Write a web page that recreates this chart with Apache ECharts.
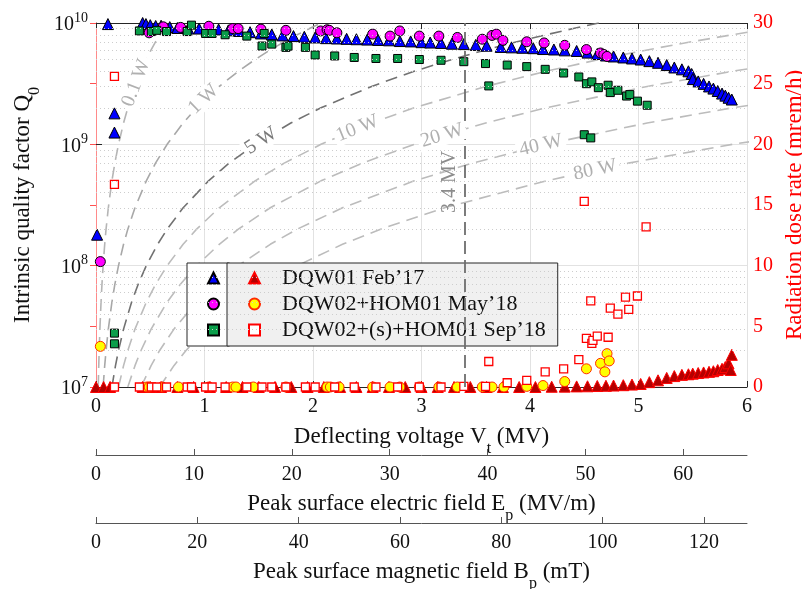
<!DOCTYPE html>
<html>
<head>
<meta charset="utf-8">
<script src="https://cdn.jsdelivr.net/npm/echarts@6/dist/echarts.min.js"></script>
<style>html,body{margin:0;background:#fff}#chart{width:802px;height:589px}</style>
</head>
<body>
<div id="chart"></div>
<script>
const FONT = "'Liberation Serif', 'Times New Roman', serif";

// Q0 vs deflecting voltage, [Vt (MV), Q0]
const dqw01Q = [[0.01,1.8e8],[0.11,9.8e9],[0.17,1.8e9],[0.17,1.25e9],[0.43,1.0e10],[0.46,9.8e9],[0.5,9.6e9],[0.55,9.45e9],[0.6,9.5e9],[0.68,9.25e9],[0.75,9.1e9],[0.85,9.0e9],[0.95,9.0e9],[1.05,8.9e9],[1.13,8.85e9],[1.22,8.7e9],[1.32,8.6e9],[1.42,8.4e9],[1.52,8.2e9],[1.62,8.05e9],[1.72,7.9e9],[1.82,7.8e9],[1.92,7.7e9],[2.02,7.6e9],[2.12,7.5e9],[2.22,7.45e9],[2.31,7.4e9],[2.4,7.35e9],[2.5,7.3e9],[2.6,7.25e9],[2.7,7.2e9],[2.8,7.1e9],[2.9,7.05e9],[3.0,6.95e9],[3.08,6.9e9],[3.18,6.85e9],[3.28,6.75e9],[3.39,6.7e9],[3.5,6.6e9],[3.6,6.5e9],[3.73,6.35e9],[3.83,6.3e9],[3.93,6.25e9],[4.03,6.2e9],[4.12,6.1e9],[4.22,6.05e9],[4.32,5.95e9],[4.43,5.88e9],[4.53,5.7e9],[4.62,5.55e9],[4.7,5.4e9],[4.77,5.3e9],[4.86,5.2e9],[4.94,5.1e9],[5.02,5.0e9],[5.1,4.85e9],[5.18,4.7e9],[5.26,4.5e9],[5.33,4.3e9],[5.4,4.15e9],[5.46,4.0e9],[5.49,3.8e9],[5.5,3.45e9],[5.55,3.3e9],[5.6,3.15e9],[5.65,3.0e9],[5.69,2.88e9],[5.73,2.75e9],[5.77,2.62e9],[5.8,2.52e9],[5.83,2.42e9],[5.86,2.34e9]];
const dqw02Q = [[0.04,1.08e8],[0.49,8.3e9],[0.62,9.3e9],[0.78,9.2e9],[1.04,9.4e9],[1.26,9.0e9],[1.31,9.0e9],[1.52,8.9e9],[1.75,8.7e9],[2.07,8.6e9],[2.13,8.8e9],[2.15,8.7e9],[2.22,8.3e9],[2.55,8.1e9],[2.71,7.8e9],[2.8,8.6e9],[2.98,7.8e9],[3.16,7.8e9],[3.33,7.6e9],[3.56,7.35e9],[3.65,7.9e9],[3.69,8.1e9],[3.75,7.2e9],[3.97,7.0e9],[4.13,6.85e9],[4.32,6.55e9],[4.52,6.04e9],[4.65,5.66e9],[4.68,5.5e9],[4.71,5.3e9]];
const dqw02sQ = [[0.17,2.78e7],[0.17,2.27e7],[0.4,8.6e9],[0.51,8.5e9],[0.56,8.7e9],[0.65,8.5e9],[0.84,8.5e9],[0.88,9.6e9],[1.01,8.2e9],[1.07,8.2e9],[1.19,8.0e9],[1.39,7.8e9],[1.55,8.2e9],[1.53,6.46e9],[1.62,6.7e9],[1.75,6.3e9],[1.77,6.45e9],[1.93,6.3e9],[2.02,5.45e9],[2.2,5.35e9],[2.38,5.2e9],[2.58,5.1e9],[2.78,5.1e9],[2.98,5.0e9],[3.18,4.93e9],[3.39,4.8e9],[3.59,4.63e9],[3.62,3.03e9],[3.79,4.5e9],[3.97,4.37e9],[4.14,4.15e9],[4.31,3.87e9],[4.45,3.59e9],[4.52,3.16e9],[4.57,3.27e9],[4.63,2.93e9],[4.72,3.07e9],[4.74,2.67e9],[4.81,2.79e9],[4.89,2.5e9],[4.92,2.57e9],[4.99,2.27e9],[5.08,2.1e9],[4.5,1.2e9],[4.56,1.13e9]];

// radiation dose rate, [Vt (MV), mrem/h]
const dqw01Dose = [[0,0],[0.07,0],[0.13,0],[0.43,0],[0.5,0],[0.6,0],[0.75,0],[0.9,0],[1.05,0],[1.2,0],[1.35,0],[1.5,0],[1.65,0],[1.8,0],[1.95,0],[2.1,0],[2.25,0],[2.4,0],[2.55,0],[2.7,0],[2.85,0],[3.0,0],[3.15,0],[3.3,0],[3.45,0],[3.6,0],[3.75,0],[3.9,0],[4.05,0],[4.2,0.02],[4.32,0.03],[4.43,0.05],[4.53,0.06],[4.62,0.08],[4.7,0.1],[4.77,0.12],[4.86,0.15],[4.94,0.2],[5.02,0.25],[5.1,0.4],[5.18,0.55],[5.26,0.75],[5.33,0.9],[5.4,1.0],[5.46,1.05],[5.5,1.1],[5.55,1.15],[5.6,1.2],[5.65,1.25],[5.69,1.3],[5.73,1.4],[5.77,1.5],[5.8,1.65],[5.83,1.95],[5.85,1.4],[5.86,2.65]];
const dqw02Dose = [[0.04,3.35],[0.47,0],[0.49,0],[0.61,0],[0.76,0],[1.04,0],[1.26,0],[1.29,0],[1.45,0],[1.75,0],[2.13,0],[2.16,0],[2.24,0],[2.55,0],[2.71,0],[2.8,0],[2.98,0],[3.16,0],[3.33,0],[3.56,0],[3.65,0],[3.76,0],[3.97,0.05],[4.12,0.12],[4.32,0.45],[4.52,1.5],[4.65,1.95],[4.69,1.25],[4.71,2.75],[4.73,2.15]];
const dqw02sDose = [[0.17,25.6],[0.17,16.7],[0.17,0],[0.4,0],[0.51,0],[0.56,0],[0.65,0],[0.84,0],[0.88,0],[1.01,0],[1.07,0],[1.19,0],[1.39,0],[1.53,0],[1.62,0],[1.75,0],[1.93,0],[2.02,0],[2.2,0],[2.38,0],[2.58,0],[2.78,0],[2.98,0],[3.18,0],[3.39,0.05],[3.59,0.05],[3.62,2.1],[3.79,0.35],[3.97,0.55],[4.14,1.24],[4.31,1.5],[4.45,2.25],[4.5,15.3],[4.52,4.0],[4.56,7.1],[4.57,3.6],[4.58,3.85],[4.62,4.2],[4.72,4.1],[4.74,6.5],[4.81,6.0],[4.88,7.4],[4.91,6.4],[4.99,7.5],[5.07,13.2]];

const seriesNames = ["DQW01 Feb\u201917", "DQW02+HOM01 May\u201918", "DQW02+(s)+HOM01 Sep\u201918"];

// constant dissipated power guide curves: Q0 levels and the voltage reached at each level
const powerQ = [1e7,1.5e7,2e7,3e7,5e7,7e7,1e8,1.5e8,2e8,3e8,5e8,7e8,1e9,1.5e9,2e9,3e9,4e9,5e9,6e9,7e9,8e9,9e9,1e10];
const powerNames = ["0.1 W", "1 W", "5 W", "10 W", "20 W", "40 W", "80 W"];
const powerV = [
  [0.0207,0.0254,0.0293,0.0359,0.0464,0.0549,0.0656,0.0803,0.0927,0.1136,0.1466,0.1735,0.2074,0.2540,0.2933,0.3592,0.4147,0.4637,0.5079,0.5486,0.5865,0.6221,0.6557],
  [0.0656,0.0803,0.0927,0.1136,0.1466,0.1735,0.2074,0.2540,0.2933,0.3592,0.4637,0.5486,0.6557,0.8031,0.9274,1.1358,1.3115,1.4663,1.6062,1.7349,1.8547,1.9672,2.0736],
  [0.1466,0.1796,0.2074,0.2540,0.3278,0.3880,0.4637,0.5680,0.6558,0.8032,1.0369,1.2267,1.4662,1.7958,2.0737,2.5397,2.9326,3.2788,3.5916,3.8793,4.1472,4.3988,4.6367],
  [0.2074,0.2540,0.2933,0.3592,0.4637,0.5486,0.6557,0.8031,0.9274,1.1358,1.4663,1.7349,2.0736,2.5397,2.9326,3.5917,4.1473,4.6369,5.0793,5.4862,5.8651,6.2209,6.5573],
  [0.2932,0.3592,0.4147,0.5080,0.6556,0.7759,0.9275,1.1359,1.3117,1.6064,2.0737,2.4534,2.9324,3.5916,4.1475,5.0794,5.8652,6.5575],
  [0.4147,0.5079,0.5865,0.7185,0.9272,1.0973,1.3117,1.6064,1.8550,2.2718,2.9327,3.4696,4.1470,5.0793,5.8654,7.1834],
  [0.5865,0.7183,0.8295,1.0161,1.3112,1.5518,1.8550,2.2718,2.6234,3.2128,4.1475,4.9068,5.8648,7.1831]
];
// where each curve's label sits [Vt, Q0] and its slope angle
const powerLabelAt = [[0.37,3.2e9],[0.99,2.35e9],[1.52,1.07e9],[2.41,1.35e9],[3.19,1.18e9],[4.1,9.8e8],[4.6,6.15e8]];
const powerLabelRot = [69, 44, 33, 22, 17, 13, 12];
const powerColor = ["#b5b5b5", "#a8a8a8", "#727272", "#bcbcbc", "#bcbcbc", "#bcbcbc", "#bcbcbc"];

const refVoltage = 3.4;
const minorMult = [2, 3, 4, 5, 6, 7, 8, 9];
const decades = [1e7, 1e8, 1e9];
const epTicks = [0, 10, 20, 30, 40, 50, 60];
const bpTicks = [0, 20, 40, 60, 80, 100, 120];

const dark = "#262626";
const chart = echarts.init(document.getElementById("chart"), null, { renderer: "canvas" });

const curveSeries = powerNames.map((name, i) => ({
  type: "line",
  name: "P" + name,
  xAxisIndex: 0,
  yAxisIndex: 0,
  data: powerV[i].map((v, k) => [v, powerQ[k]]),
  symbol: "none",
  silent: true,
  z: 1,
  lineStyle: { color: powerColor[i], width: 1.6, type: [12, 7] },
  markPoint: {
    symbol: "circle",
    symbolSize: 0,
    silent: true,
    data: [{ coord: powerLabelAt[i], value: name }],
    label: {
      show: true,
      formatter: name,
      rotate: powerLabelRot[i],
      color: powerColor[i] === "#727272" ? "#7a7a7a" : "#b0b0b0",
      fontFamily: FONT,
      fontSize: 20,
      backgroundColor: "#fff",
      padding: [0, 3]
    }
  }
}));

const minorLines = [];
decades.forEach((d) => minorMult.forEach((m) => minorLines.push({ yAxis: d * m })));

const sub = { fontSize: 16, lineHeight: 16, verticalAlign: "bottom", fontFamily: FONT };
const main = (lh) => ({ fontSize: 23, lineHeight: lh, verticalAlign: "middle", fontFamily: FONT });

chart.setOption({
  animation: false,
  backgroundColor: "#fff",
  textStyle: { fontFamily: FONT },
  grid: { left: 96, right: 55, top: 23, height: 364, outerBoundsMode: "none", containLabel: false },
  legend: [
    {
      left: 187, top: 263, orient: "vertical",
      data: seriesNames.map((n) => "Q " + n),
      formatter: () => " ",
      selectedMode: false,
      itemWidth: 11, itemHeight: 11, itemGap: 4,
      padding: [4, 0, 5, 20],
      backgroundColor: "#fff", borderColor: dark, borderWidth: 1,
      textStyle: { fontSize: 22, lineHeight: 22, fontFamily: FONT }
    },
    {
      left: 227, top: 263, orient: "vertical",
      data: seriesNames,
      selectedMode: false,
      itemWidth: 11, itemHeight: 11, itemGap: 4,
      padding: [4, 12, 5, 21],
      backgroundColor: "#f0f0f0", borderColor: dark, borderWidth: 1,
      textStyle: { fontSize: 22, lineHeight: 22, color: "#111", fontFamily: FONT, padding: [0, 0, 0, 17] }
    }
  ],
  xAxis: [
    {
      type: "value", position: "bottom", min: 0, max: 6, interval: 1,
      name: "{m|Deflecting voltage V}{s|t}{m| (MV)}",
      nameLocation: "middle", nameGap: 30,
      nameTextStyle: { color: "#111", rich: { m: main(40), s: sub } },
      axisLine: { lineStyle: { color: dark } },
      axisTick: { inside: true, length: 6, lineStyle: { color: dark } },
      axisLabel: { color: "#111", fontSize: 20, margin: 10, fontFamily: FONT },
      splitLine: { show: true, lineStyle: { color: "#e2e2e2", width: 1 } }
    },
    {
      type: "value", position: "bottom", offset: 68, min: 0, max: 66.5,
      name: "{m|Peak surface electric field E}{s|p}{m| (MV/m)}",
      nameLocation: "middle", nameGap: 29,
      nameTextStyle: { color: "#111", rich: { m: main(40), s: sub } },
      axisLine: { lineStyle: { color: "#555" } },
      axisTick: { inside: true, length: 6, customValues: epTicks, lineStyle: { color: "#555" } },
      axisLabel: { color: "#111", fontSize: 20, margin: 10, fontFamily: FONT, customValues: epTicks },
      splitLine: { show: false }
    },
    {
      type: "value", position: "bottom", offset: 136, min: 0, max: 128.5,
      name: "{m|Peak surface magnetic field B}{s|p}{m| (mT)}",
      nameLocation: "middle", nameGap: 29,
      nameTextStyle: { color: "#111", rich: { m: main(40), s: sub } },
      axisLine: { lineStyle: { color: "#555" } },
      axisTick: { inside: true, length: 6, customValues: bpTicks, lineStyle: { color: "#555" } },
      axisLabel: { color: "#111", fontSize: 20, margin: 10, fontFamily: FONT, customValues: bpTicks },
      splitLine: { show: false }
    },
    {
      type: "value", position: "top", min: 0, max: 6, interval: 1,
      axisLine: { lineStyle: { color: dark } },
      axisTick: { inside: true, length: 6, lineStyle: { color: dark } },
      axisLabel: { show: false },
      splitLine: { show: false }
    }
  ],
  yAxis: [
    {
      type: "log", logBase: 10, min: 1e7, max: 1e10, position: "left",
      name: "{m|Intrinsic quality factor Q}{s|0}",
      nameLocation: "middle", nameRotate: 90, nameGap: 52,
      nameTextStyle: { color: "#111", rich: { m: main(40), s: sub } },
      axisLine: { lineStyle: { color: dark } },
      axisTick: { inside: true, length: 6, lineStyle: { color: dark } },
      axisLabel: {
        margin: 8,
        formatter: (v) => "{b|10}{e|" + Math.round(Math.log10(v)) + "}",
        rich: {
          b: { fontSize: 20, lineHeight: 24, verticalAlign: "bottom", color: "#111", fontFamily: FONT },
          e: { fontSize: 14, lineHeight: 14, verticalAlign: "top", color: "#111", fontFamily: FONT }
        }
      },
      splitLine: { show: true, lineStyle: { color: "#e2e2e2", width: 1 } }
    },
    {
      type: "value", min: 0, max: 30, interval: 5, position: "right",
      name: "Radiation dose rate (mrem/h)",
      nameLocation: "middle", nameRotate: 90, nameGap: 36,
      nameTextStyle: { color: "#ff0000", fontSize: 23, fontFamily: FONT },
      axisLine: { lineStyle: { color: "#ff8a8a" } },
      axisTick: { inside: true, length: 6, lineStyle: { color: "#ff5050" } },
      axisLabel: { color: "#ff0000", fontSize: 20, margin: 6, fontFamily: FONT },
      splitLine: { show: false }
    }
  ],
  series: [
    ...curveSeries,
    {
      type: "line",
      name: "guides",
      xAxisIndex: 0, yAxisIndex: 0,
      data: [],
      silent: true,
      markLine: {
        silent: true, symbol: "none", label: { show: false },
        data: minorLines,
        lineStyle: { color: "#cdcdcd", type: [1, 3], width: 1 }
      }
    },
    {
      type: "line",
      name: "ref",
      xAxisIndex: 0, yAxisIndex: 0,
      data: [],
      silent: true,
      z: 2,
      markLine: {
        silent: true, symbol: "none", label: { show: false },
        data: [{ xAxis: refVoltage }],
        lineStyle: { color: "#6e6e6e", type: [13, 6], width: 1.8 }
      },
      markPoint: {
        symbol: "circle", symbolSize: 0, silent: true,
        data: [{ coord: [3.26, 4.9e8], value: refVoltage }],
        label: { show: true, formatter: refVoltage + " MV", rotate: 90, color: "#8c8c8c", fontSize: 20, fontFamily: FONT }
      }
    },
    {
      type: "scatter", name: "Q " + seriesNames[0], xAxisIndex: 0, yAxisIndex: 0, z: 3,
      data: dqw01Q, symbol: "triangle", symbolSize: 11,
      itemStyle: { color: "#0000ff", borderColor: "#000", borderWidth: 1, opacity: 1 }
    },
    {
      type: "scatter", name: "Q " + seriesNames[1], xAxisIndex: 0, yAxisIndex: 0, z: 3,
      data: dqw02Q, symbol: "circle", symbolSize: 10,
      itemStyle: { color: "#ff00ff", borderColor: "#000", borderWidth: 1, opacity: 1 }
    },
    {
      type: "scatter", name: "Q " + seriesNames[2], xAxisIndex: 0, yAxisIndex: 0, z: 3,
      data: dqw02sQ, symbol: "rect", symbolSize: 8,
      itemStyle: { color: "#0a9e4a", borderColor: "#000", borderWidth: 1, opacity: 1 }
    },
    {
      type: "scatter", name: seriesNames[0], xAxisIndex: 0, yAxisIndex: 1, z: 3,
      data: dqw01Dose, symbol: "triangle", symbolSize: 11,
      itemStyle: { color: "#b40000", borderColor: "#ff0000", borderWidth: 1, opacity: 1 }
    },
    {
      type: "scatter", name: seriesNames[1], xAxisIndex: 0, yAxisIndex: 1, z: 3,
      data: dqw02Dose, symbol: "circle", symbolSize: 10,
      itemStyle: { color: "#ffff00", borderColor: "#ff2a00", borderWidth: 1, opacity: 1 }
    },
    {
      type: "scatter", name: seriesNames[2], xAxisIndex: 0, yAxisIndex: 1, z: 3,
      data: dqw02sDose, symbol: "rect", symbolSize: 8,
      itemStyle: { color: "#ffffff", borderColor: "#ff0000", borderWidth: 1.3, opacity: 1 }
    }
  ]
});
</script>
</body>
</html>
